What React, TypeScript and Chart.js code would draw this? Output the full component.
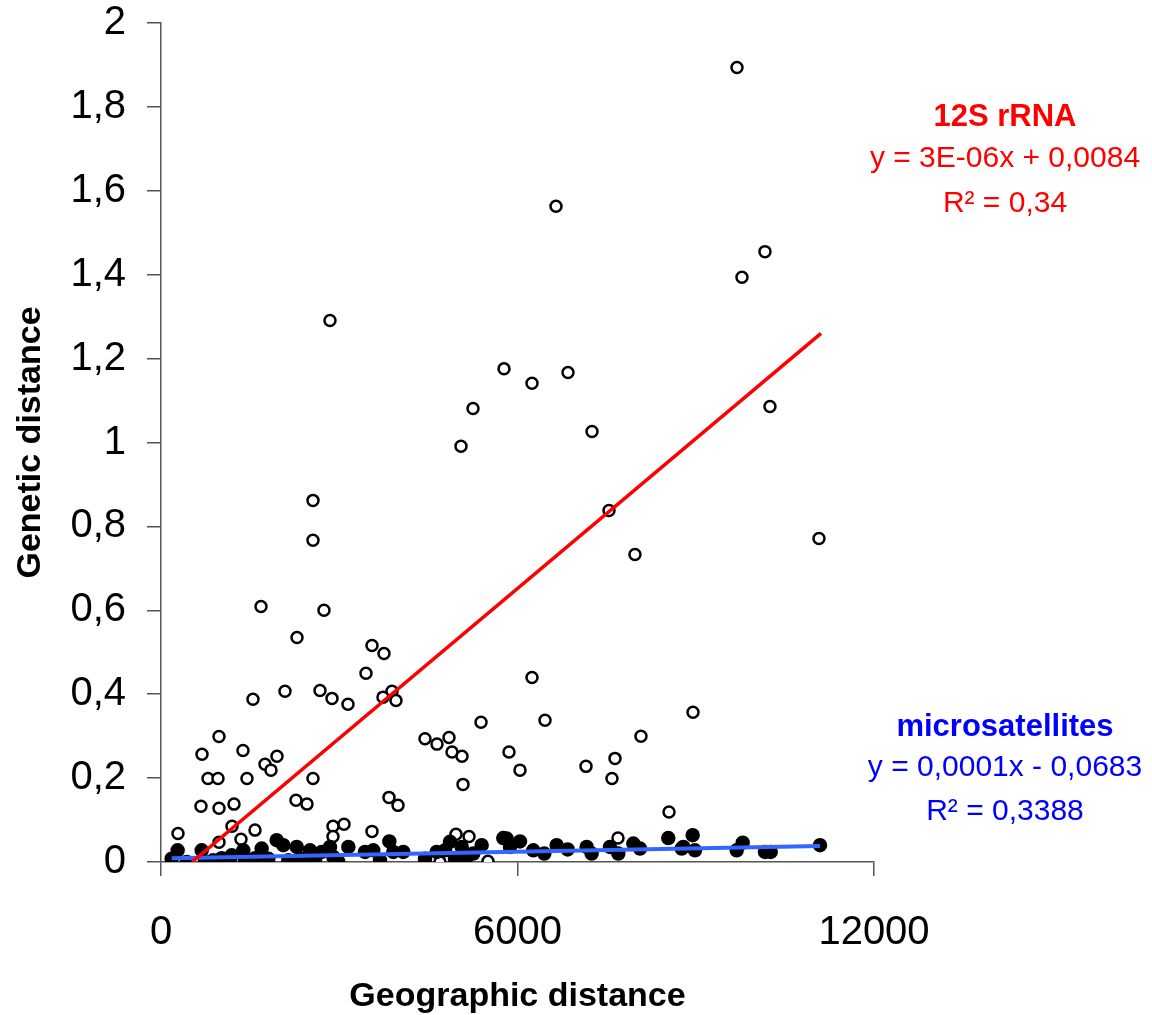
import React, { useEffect, useRef } from "react";
import { Chart, registerables } from "chart.js";

Chart.register(...registerables);

// 12S rRNA (open circles): geographic distance, genetic distance
const rrnaX = [9694, 6648, 10165, 9778, 2844, 5773, 6244, 6850, 5251, 10249, 5049, 7254, 2558, 7540, 2558, 11074, 7977, 1683, 2743, 2289, 3551, 3753, 3450, 6244, 2087, 2676, 3888, 2878, 3736, 1548, 3147, 3955, 6463, 5386, 8954, 4443, 4847, 4645, 8078, 976, 4898, 5066, 5857, 1380, 690, 7641, 1952, 1750, 1851, 7153, 6042, 791, 959, 1447, 2558, 7590, 5083, 2272, 2457, 673, 976, 1229, 3837, 3989, 8550, 1195, 1582, 2895, 3080, 3551, 286, 1346, 976, 2895, 4965, 5184, 7691, 2508, 4695, 5503, 1161];
const rrnaY = [1.894, 1.563, 1.455, 1.394, 1.291, 1.176, 1.141, 1.167, 1.081, 1.086, 0.991, 1.026, 0.862, 0.838, 0.767, 0.771, 0.733, 0.609, 0.600, 0.535, 0.516, 0.497, 0.450, 0.440, 0.407, 0.409, 0.407, 0.390, 0.393, 0.388, 0.376, 0.385, 0.338, 0.333, 0.357, 0.294, 0.297, 0.281, 0.300, 0.299, 0.262, 0.252, 0.262, 0.266, 0.257, 0.247, 0.252, 0.233, 0.219, 0.228, 0.219, 0.199, 0.199, 0.199, 0.199, 0.199, 0.185, 0.147, 0.138, 0.133, 0.128, 0.138, 0.154, 0.135, 0.119, 0.085, 0.076, 0.085, 0.090, 0.073, 0.068, 0.054, 0.047, 0.061, 0.066, 0.061, 0.057, 0.002, 0.0, 0.002, 0.004];

// microsatellites (filled circles)
const microX = [180, 280, 433, 685, 740, 875, 1021, 1190, 1385, 1414, 1582, 1694, 1806, 1947, 2059, 2143, 2284, 2368, 2508, 2592, 2704, 2844, 2900, 2985, 3153, 3433, 3573, 3686, 3843, 3910, 4078, 4443, 4640, 4780, 4864, 4948, 5061, 5145, 5256, 5397, 5761, 5818, 5874, 6042, 6266, 6451, 6659, 6844, 7164, 7248, 7556, 7697, 7950, 8062, 8538, 8763, 8791, 8948, 8987, 9689, 9790, 10165, 10261, 11091];
const microY = [0.008, 0.028, 0.0, 0.028, 0.0, 0.004, 0.009, 0.016, 0.028, 0.004, 0.009, 0.032, 0.008, 0.052, 0.040, 0.004, 0.036, 0.008, 0.028, 0.004, 0.024, 0.036, 0.012, 0.0, 0.036, 0.024, 0.028, 0.004, 0.049, 0.024, 0.024, 0.008, 0.024, 0.028, 0.048, 0.008, 0.036, 0.012, 0.020, 0.040, 0.057, 0.056, 0.036, 0.049, 0.028, 0.020, 0.040, 0.030, 0.036, 0.020, 0.036, 0.020, 0.044, 0.032, 0.057, 0.032, 0.036, 0.064, 0.028, 0.028, 0.046, 0.024, 0.024, 0.040];

// trend lines (end points as drawn)
const rrnaTrendX = [522, 11108];
const rrnaTrendY = [0, 1.26];
const microTrendX = [180, 11090];
const microTrendY = [0.009, 0.038];

const xTicks = [0, 6000, 12000];
const yMin = 0;
const yMax = 2;
const yStep = 0.2;

const rrnaLabel = ["12S rRNA", "y = 3E-06x + 0,0084", "R² = 0,34"];
const microLabel = ["microsatellites", "y = 0,0001x - 0,0683", "R² = 0,3388"];

const FONT = '"Liberation Sans", Arial, sans-serif';

const toPoints = (xs: number[], ys: number[]) => xs.map((x, i) => ({ x, y: ys[i] }));

const annotationPlugin = {
  id: "eqLabels",
  afterDraw(chart: any) {
    const ctx = chart.ctx;
    ctx.save();
    ctx.textAlign = "center";
    ctx.textBaseline = "middle";
    const cx = 1005;
    const draw = (lines: string[], color: string, ys: number[]) => {
      ctx.fillStyle = color;
      lines.forEach((t, i) => {
        ctx.font = (i === 0 ? "bold 31px " : "30px ") + FONT;
        ctx.fillText(t, cx, ys[i]);
      });
    };
    draw(rrnaLabel, "#FF0000", [117, 159, 204]);
    draw(microLabel, "#0000FF", [727, 768, 812]);
    ctx.restore();
  },
};

export default function App() {
  const ref = useRef<HTMLCanvasElement | null>(null);
  useEffect(() => {
    document.body.style.margin = "0";
    const canvas = ref.current;
    if (!canvas) return;
    const chart = new Chart(canvas, {
      type: "scatter",
      data: {
        datasets: [
          {
            type: "line",
            data: toPoints(rrnaTrendX, rrnaTrendY),
            borderColor: "#FF0000",
            borderWidth: 3.5,
            pointRadius: 0,
            fill: false,
          } as any,
          {
            type: "line",
            data: toPoints(microTrendX, microTrendY),
            borderColor: "#3366FF",
            borderWidth: 4,
            pointRadius: 0,
            fill: false,
          } as any,
          {
            data: toPoints(microX, microY),
            backgroundColor: "#000000",
            borderColor: "#000000",
            borderWidth: 1.5,
            pointRadius: 6.5,
          },
          {
            data: toPoints(rrnaX, rrnaY),
            backgroundColor: "#FFFFFF",
            borderColor: "#000000",
            borderWidth: 2.5,
            pointRadius: 5.5,
          },
        ],
      },
      options: {
        animation: false,
        responsive: false,
        events: [],
        layout: { padding: { left: 0, right: 278, top: 23, bottom: 0 } },
        plugins: { legend: { display: false }, tooltip: { enabled: false } },
        scales: {
          x: {
            type: "linear",
            min: xTicks[0],
            max: xTicks[xTicks.length - 1],
            afterBuildTicks: (scale: any) => {
              scale.ticks = xTicks.map((v) => ({ value: v }));
            },
            afterFit: (scale: any) => {
              scale.height = 153;
              scale.paddingLeft = 0;
              scale.paddingRight = 0;
            },
            grid: { display: true, drawOnChartArea: false, drawTicks: true, tickLength: 14, color: "#555", lineWidth: 1.5 },
            border: { display: true, color: "#555", width: 1.5 },
            ticks: {
              color: "#000",
              padding: 37,
              maxRotation: 0,
              font: { family: FONT, size: 40, lineHeight: 1 },
              callback: (v: any) => String(v),
            },
            title: {
              display: true,
              text: "Geographic distance",
              color: "#000",
              font: { family: FONT, size: 34, weight: "bold", lineHeight: 1.1 },
              padding: { top: 0, bottom: 0 },
            },
          },
          y: {
            type: "linear",
            min: yMin,
            max: yMax,
            afterFit: (scale: any) => {
              scale.width = 161;
              scale.paddingTop = 0;
              scale.paddingBottom = 0;
            },
            grid: { display: true, drawOnChartArea: false, drawTicks: true, tickLength: 14, color: "#555", lineWidth: 1.5 },
            border: { display: true, color: "#555", width: 1.5 },
            ticks: {
              stepSize: yStep,
              color: "#000",
              padding: 21,
              font: { family: FONT, size: 40, lineHeight: 1 },
              callback: (v: any) => String(Math.round(Number(v) * 10) / 10).replace(".", ","),
            },
            title: {
              display: true,
              text: "Genetic distance",
              color: "#000",
              font: { family: FONT, size: 34, weight: "bold", lineHeight: 1.2 },
              padding: { top: 10, bottom: 0 },
            },
          },
        },
      },
      plugins: [annotationPlugin],
    });
    return () => chart.destroy();
  }, []);
  return <canvas ref={ref} width={1152} height={1015} style={{ display: "block" }} />;
}
